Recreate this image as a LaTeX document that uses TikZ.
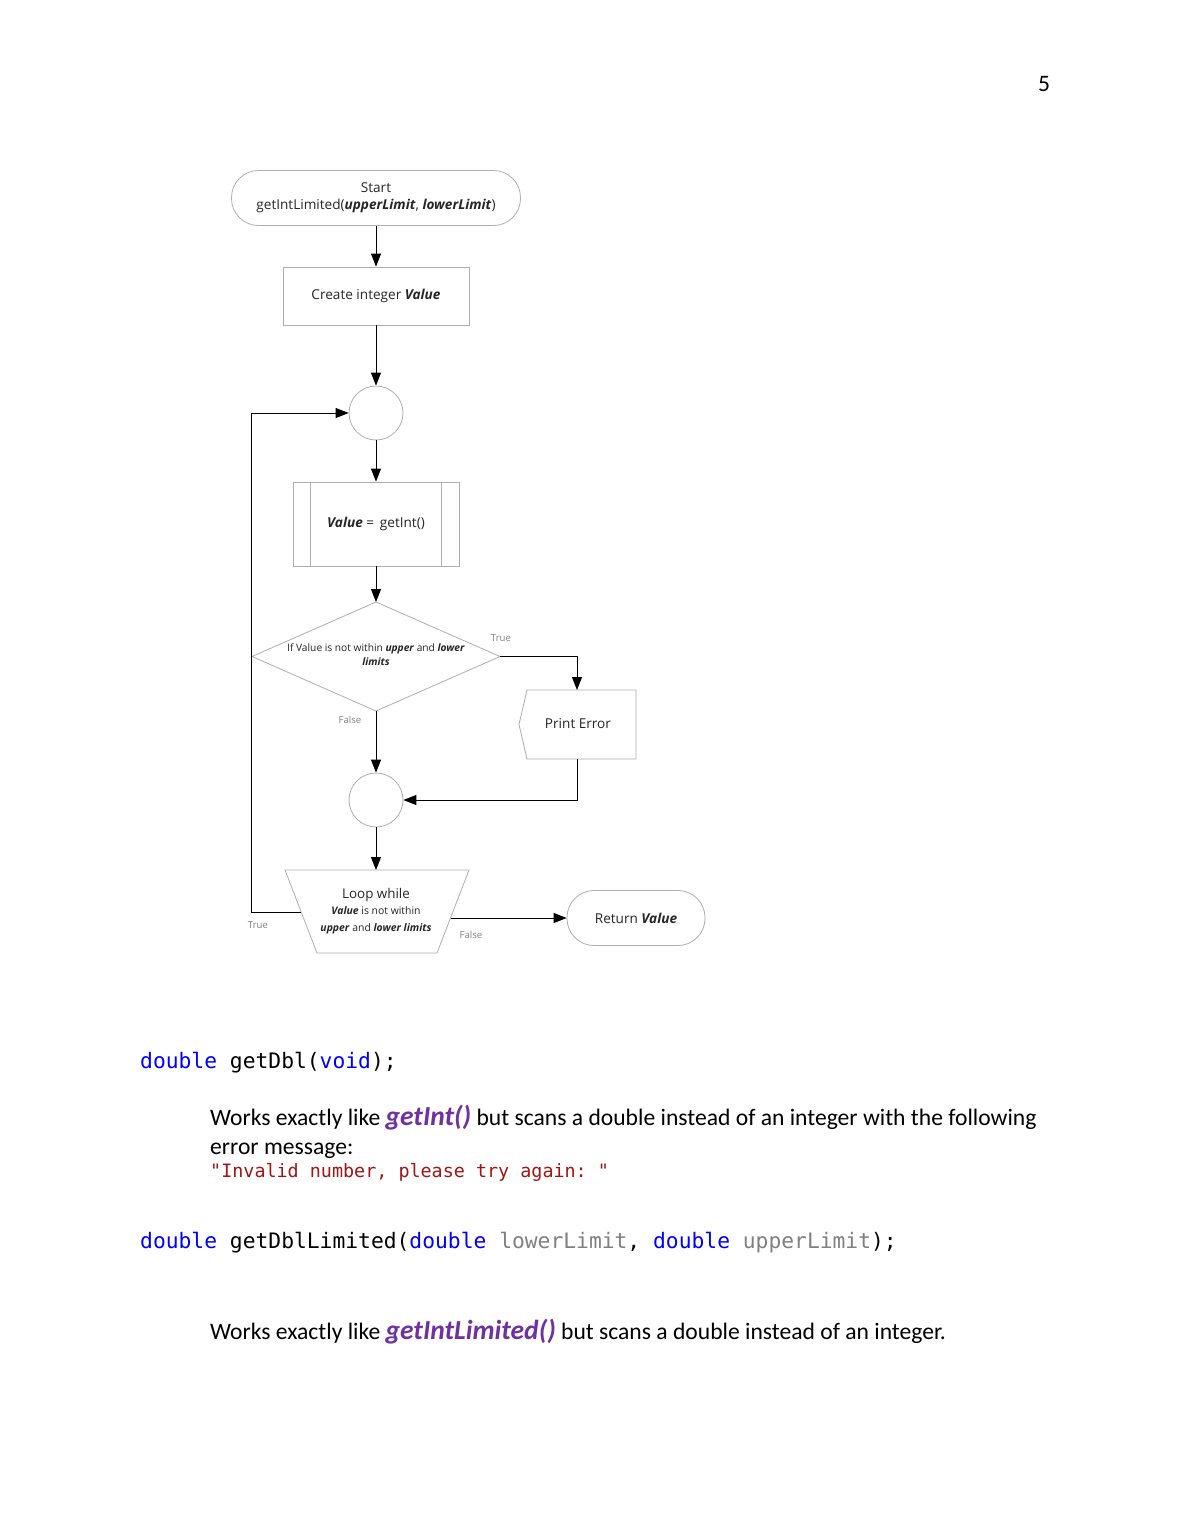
\documentclass[tikz,border=0pt]{standalone}
\usepackage{fontspec}
\setmainfont{Carlito}
\newfontfamily\fcfont{Open Sans}
\setmonofont{DejaVu Sans Mono}
\usetikzlibrary{arrows.meta}
\definecolor{kw}{RGB}{0,0,255}
\definecolor{prm}{RGB}{128,128,128}
\definecolor{strc}{RGB}{163,21,21}
\definecolor{purp}{RGB}{112,48,160}
\definecolor{bord}{RGB}{175,175,175}
\begin{document}
\begin{tikzpicture}[x=1pt,y=-1pt,
 shp/.style={draw=bord,line width=0.8pt,fill=white},
 conn/.style={draw=black,line width=1pt,-{Triangle[length=13pt,width=10pt]}},
 lbl/.style={text=gray,font=\fcfont\fontsize{9.6}{11}\selectfont,inner sep=0},
 fc/.style={font=\fcfont\fontsize{13.6}{17}\selectfont,align=center,inner sep=0,text=black!85},
 body/.style={font=\fontsize{23.6}{28}\selectfont,anchor=base west,inner sep=0},
 code/.style={font=\ttfamily\fontsize{21.3}{26}\selectfont,anchor=base west,inner sep=0}
]
\useasboundingbox[fill=white] (0,0) rectangle (1190,1540);
\newcommand{\fbi}[1]{\textbf{\textit{#1}}}
\newcommand{\purpw}[1]{{\fontsize{27.5}{28}\selectfont\bfseries\itshape\color{purp}#1}}

% page number
\node[body] (pg) at (1038,91) {5};

% flowchart
\node[shp,fc,rounded corners=27pt,minimum width=289pt,minimum height=55pt] (start) at (376,198) {Start\\getIntLimited(\fbi{upperLimit}, \fbi{lowerLimit})};
\node[shp,fc,minimum width=186pt,minimum height=58pt] (rect) at (376,296) {Create integer \fbi{Value}};
\node[shp,circle,minimum size=54pt] (c1) at (376,413) {};
\node[shp,fc,minimum width=166pt,minimum height=84pt] (pp) at (376,524) {\fbi{Value} = \,getInt()};
\draw[draw=bord,line width=0.8pt] ([xshift=18pt]pp.north west) -- ([xshift=18pt]pp.south west);
\draw[draw=bord,line width=0.8pt] ([xshift=-18pt]pp.north east) -- ([xshift=-18pt]pp.south east);

\coordinate (dT) at (376,602);
\coordinate (dR) at (500,656.5);
\coordinate (dB) at (376,711);
\coordinate (dL) at (252,656.5);
\draw[shp] (dT) -- (dR) -- (dB) -- (dL) -- cycle;
\node[fc,font=\fcfont\fontsize{10.2}{14}\selectfont] (dtext) at (376,655) {If Value is not within \fbi{upper} and \fbi{lower}\\\fbi{limits}};

\draw[shp] (527,690) -- (636,690) -- (636,759) -- (527,759) -- (519,724.5) -- cycle;
\coordinate (peT) at (577,690);
\coordinate (peB) at (577,759);
\node[fc] (pe) at (578,724) {Print Error};

\node[shp,circle,minimum size=54pt] (c2) at (376,800) {};

\draw[shp] (285,870) -- (469,870) -- (437,953) -- (317,953) -- cycle;
\coordinate (tT) at (376,870);
\coordinate (tL) at (301,912);
\coordinate (tR) at (450.5,918);
\node[fc,font=\fcfont\fontsize{10.4}{16.5}\selectfont] (ttext) at (376,911) {{\fontsize{13.4}{16}\selectfont Loop while}\\\fbi{Value} is not within\\\fbi{upper} and \fbi{lower limits}};

\node[shp,fc,rounded corners=27pt,minimum width=138pt,minimum height=55pt] (ret) at (636,918) {Return \fbi{Value}};

\coordinate (lc) at (251,912);

% connectors
\draw[conn] (start) -- (rect);
\draw[conn] (rect) -- (c1);
\draw[conn] (c1) -- (pp);
\draw[conn] (pp) -- (dT);
\draw[conn] (dR) -| (peT);
\draw[conn] (dB) -- (c2);
\draw[conn] (peB) |- (c2);
\draw[conn] (c2) -- (tT);
\draw[conn] (tL) -- (lc) |- (c1);
\draw[conn] (tR) -- (ret);

% labels
\node[lbl] (lt1) at (501,638) {True};
\node[lbl] (lf1) at (350,720) {False};
\node[lbl] (lt2) at (258,925) {True};
\node[lbl] (lf2) at (471,935) {False};

% text below
\node[code] (l1) at (140,1068) {\textcolor{kw}{double} getDbl(\textcolor{kw}{void});};
\node[body] (l2) at (210,1125) {Works exactly like \purpw{getInt()} but scans a double instead of an integer with the following};
\node[body] (l3) at (210,1154) {error message:};
\node[code,font=\ttfamily\fontsize{18.4}{22}\selectfont,text=strc] (l4) at (210,1177) {"Invalid number, please try again: "};
\node[code] (l5) at (140,1248) {\textcolor{kw}{double} getDblLimited(\textcolor{kw}{double} \textcolor{prm}{lowerLimit}, \textcolor{kw}{double} \textcolor{prm}{upperLimit});};
\node[body] (l6) at (210,1339) {Works exactly like \purpw{getIntLimited()} but scans a double instead of an integer.};
\end{tikzpicture}
\end{document}
